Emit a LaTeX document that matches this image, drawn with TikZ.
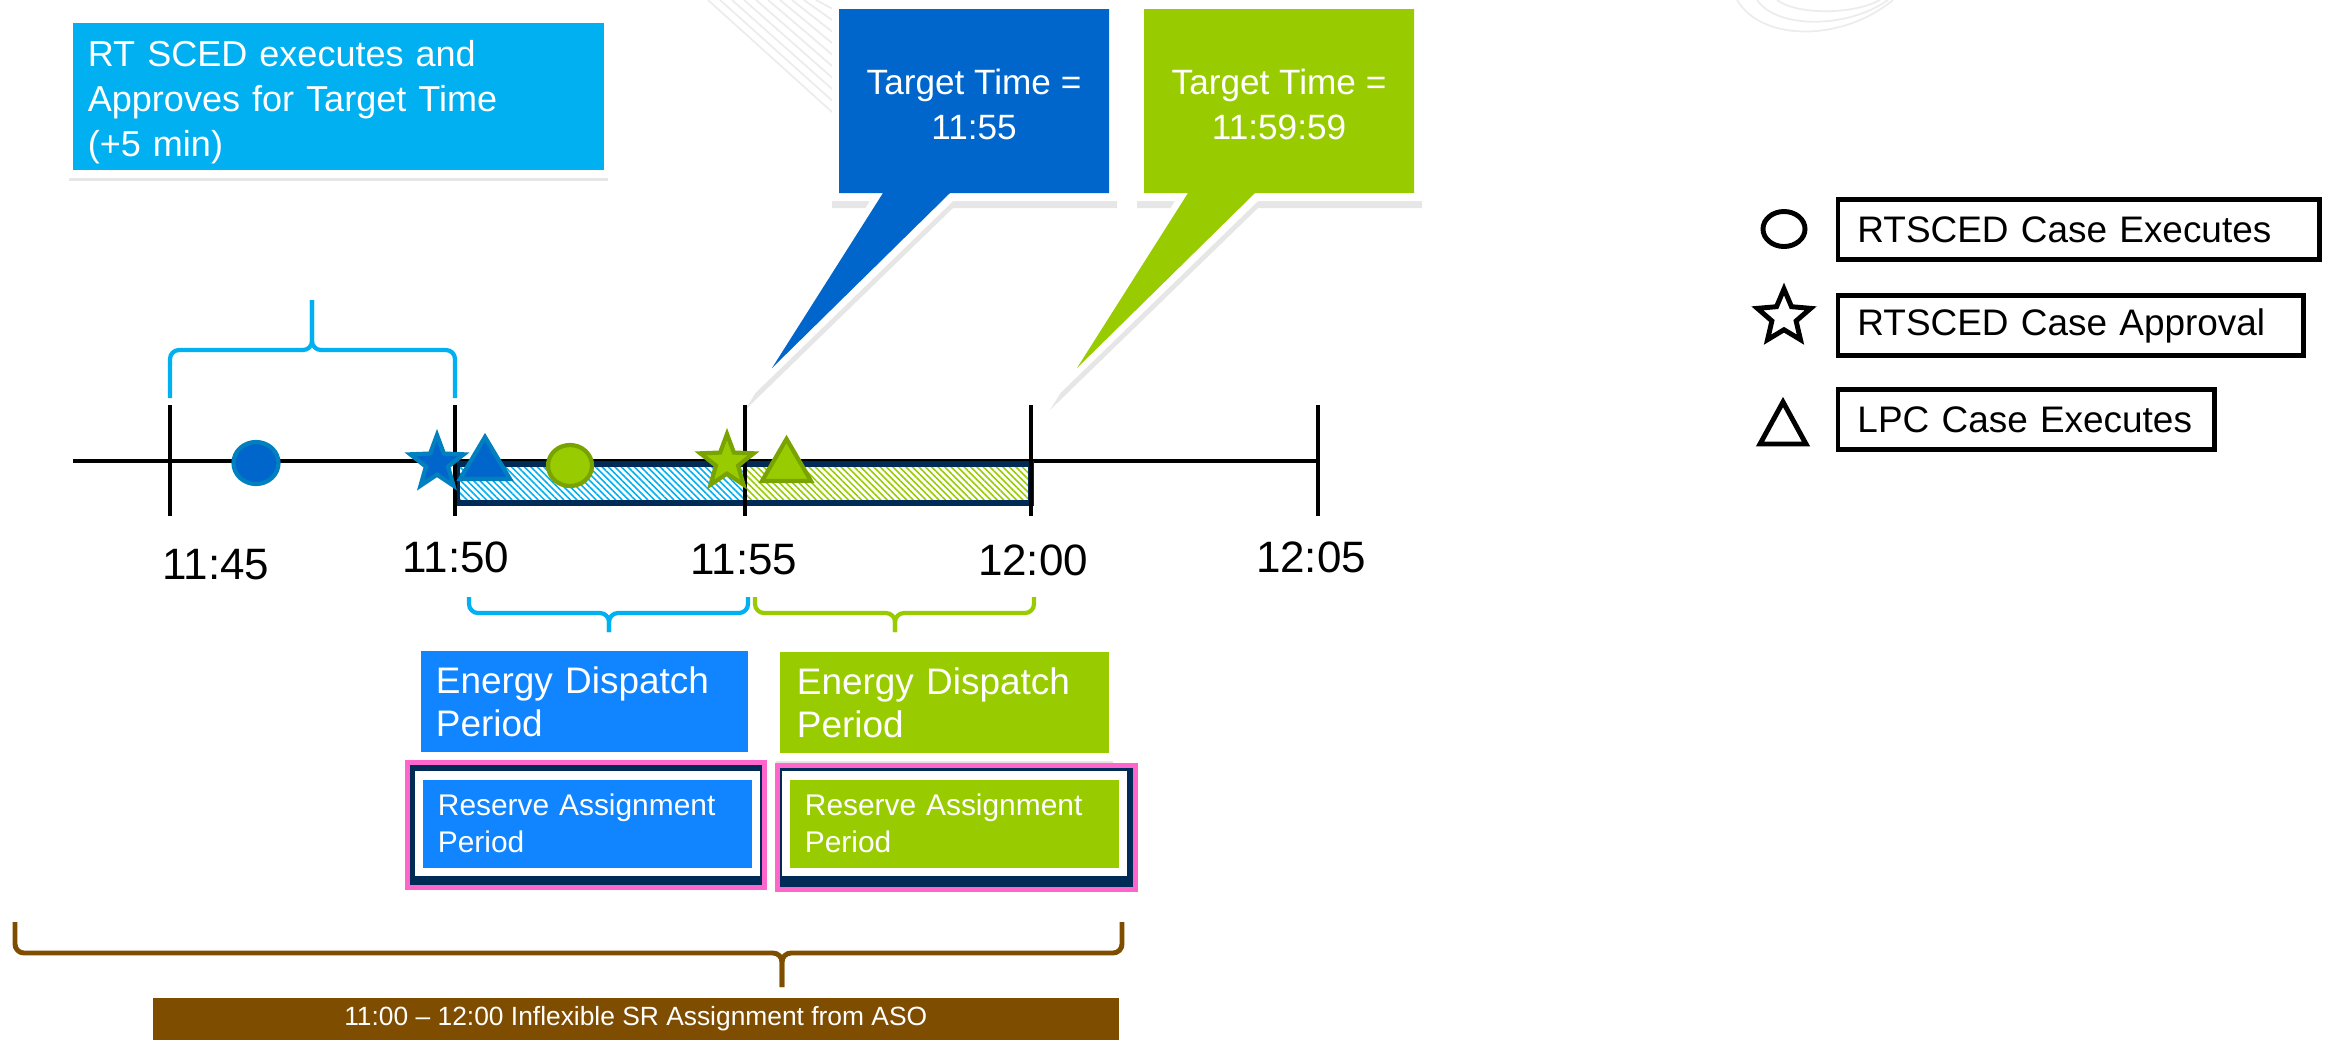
\documentclass[tikz,border=0pt]{standalone}
\usepackage{fontspec}
\setmainfont{Liberation Sans}
\usetikzlibrary{shapes.geometric,patterns.meta,shadows}
\definecolor{skyblue}{HTML}{00B0F0}
\definecolor{callblue}{HTML}{0066CC}
\definecolor{dispblue}{HTML}{1184FF}
\definecolor{markblue}{HTML}{0080BF}
\definecolor{limegreen}{HTML}{99CC00}
\definecolor{markgreen}{HTML}{78A300}
\definecolor{barnavy}{HTML}{002B57}
\definecolor{rosepink}{HTML}{FF66CC}
\definecolor{asobrown}{HTML}{7F4D00}
\begin{document}
\begin{tikzpicture}[x=0.01cm,y=-0.01cm,
    whitebox/.style={draw=white,line width=2.3pt,inner ysep=0pt,text=white,align=left,
      drop shadow={shadow xshift=0pt,shadow yshift=-2pt,opacity=.2}},
    flatbox/.style={draw=white,line width=2.3pt,inner ysep=0pt,text=white,align=left},
    bluemark/.style={fill=callblue,draw=markblue,line width=1.2pt},
    greenmark/.style={fill=limegreen,draw=markgreen,line width=1.2pt},
    starmark/.style={star,star points=5,star point ratio=2.4,minimum size=0.56cm,inner sep=0pt},
    tickmark/.style={line width=1.15pt},
    ticklabel/.style={font=\fontsize{12.5}{15}\selectfont},
    bracket/.style={line width=1.2pt,rounded corners=0.09cm},
    wmark/.style={gray!15,line width=0.5pt},
    legendbox/.style={draw,line width=1.4pt,anchor=west,minimum height=0.6cm,inner xsep=0.195cm,
      align=left,font=\fontsize{10.5}{12.6}\selectfont}]
  \useasboundingbox (0,0) rectangle (2330,1048);
  % watermark in the background
  \foreach \i in {0,...,9}
    \draw[wmark] (708+12*\i,0) -- (832,112-11.5*\i);
  \draw[wmark] (1737,0) .. controls (1762,42) and (1842,42) .. (1893,0);
  \draw[wmark] (1757,0) .. controls (1777,29) and (1847,29) .. (1888,0);
  \draw[wmark] (1777,0) .. controls (1797,15) and (1852,15) .. (1880,0);

  % info box top left
  \node[whitebox,fill=skyblue,minimum width=5.385cm,minimum height=1.55cm,text width=5.015cm,
    inner xsep=0.185cm,font=\fontsize{10.25}{12.8}\selectfont] (sced) at (338.75,96.5)
    {\rule{0pt}{10.8pt}RT SCED executes and\\Approves for Target Time\\(+5 min)};

  % callouts
  \path[fill=white,drop shadow={shadow xshift=0pt,shadow yshift=-2pt,opacity=.2}]
    (832,1) -- (1117,1) -- (1117,201) -- (953,201) -- (745,403) -- (870,201) -- (832,201) -- cycle;
  \fill[callblue] (839,9) -- (1109,9) -- (1109,193) -- (950,193) -- (772,368) -- (883,193) -- (839,193) -- cycle;
  \node[text=white,align=center,font=\fontsize{10}{12.8}\selectfont] (tt55) at (974,104) {Target Time =\\11:55};
  \path[fill=white,drop shadow={shadow xshift=0pt,shadow yshift=-2pt,opacity=.2}]
    (1137,1) -- (1422,1) -- (1422,201) -- (1258,201) -- (1050,403) -- (1175,201) -- (1137,201) -- cycle;
  \fill[limegreen] (1144,9) -- (1414,9) -- (1414,193) -- (1255,193) -- (1077,368) -- (1188,193) -- (1144,193) -- cycle;
  \node[text=white,align=center,font=\fontsize{10}{12.8}\selectfont] (tt00) at (1279,104) {Target Time =\\11:59:59};

  % time line
  \draw[line width=1.4pt] (73,461) -- (1318,461);
  \fill[pattern={Lines[angle=-45,distance=1.3pt,line width=.45pt]},pattern color=skyblue] (457,464) rectangle (745,503);
  \fill[pattern={Lines[angle=-45,distance=1.3pt,line width=.45pt]},pattern color=limegreen] (745,464) rectangle (1031,503);
  \draw[barnavy,line width=1.7pt] (457,464) rectangle (1031,503);
  \foreach \x/\n in {170/t45,455/t50,745/t55,1031/t00,1318/t05}
    \draw[tickmark] (\x,405) coordinate (\n) -- (\x,516);
  \node[ticklabel] (l45) at (216,565) {11:45};
  \node[ticklabel] (l50) at (456,557) {11:50};
  \node[ticklabel] (l55) at (744,560) {11:55};
  \node[ticklabel] (l00) at (1033,560) {12:00};
  \node[ticklabel] (l05) at (1311,557) {12:05};

  % cases on the time line
  \draw[bluemark] (256,463) ellipse [x radius=0.225cm,y radius=0.21cm];
  \node[starmark,bluemark] (sb) at (437,463) {};
  \draw[bluemark] (460,479) -- (485,437) -- (510,479) -- cycle;
  \draw[greenmark] (570,465.5) ellipse [x radius=0.22cm,y radius=0.205cm];
  \node[starmark,greenmark] (sg) at (727,462) {};
  \draw[greenmark] (762,481) -- (786.5,439) -- (811,481) -- cycle;

  % brackets
  \draw[bracket,skyblue] (170,398) -- (170,350) -- (312,350) -- (312,300);
  \draw[bracket,skyblue] (455,398) -- (455,350) -- (312,350) -- (312,300);
  \draw[bracket,skyblue] (469,597) -- (469,613) -- (609,613) -- (609,632);
  \draw[bracket,skyblue] (748,597) -- (748,613) -- (609,613) -- (609,632);
  \draw[bracket,limegreen] (755,597) -- (755,613) -- (895,613) -- (895,632);
  \draw[bracket,limegreen] (1034,597) -- (1034,613) -- (895,613) -- (895,632);
  \draw[bracket,asobrown,line width=1.4pt] (15,922) -- (15,953) -- (782,953) -- (782,987);
  \draw[bracket,asobrown,line width=1.4pt] (1122,922) -- (1122,953) -- (782,953) -- (782,987);

  % periods
  \node[whitebox,fill=dispblue,minimum width=3.35cm,minimum height=1.09cm,text width=2.97cm,
    inner xsep=0.19cm,font=\fontsize{10.5}{12.2}\selectfont] (edb) at (584.5,701.5) {Energy Dispatch\\Period};
  \node[whitebox,fill=limegreen,minimum width=3.365cm,minimum height=1.09cm,text width=2.955cm,
    inner xsep=0.205cm,font=\fontsize{10.5}{12.2}\selectfont] (edg) at (944.75,702.5) {Energy Dispatch\\Period};
  \draw[rosepink,fill=barnavy,line width=1.4pt] (407.5,762.5) rectangle (764.5,887.5);
  \draw[rosepink,fill=barnavy,line width=1.4pt] (777.5,765.5) rectangle (1135.5,889.5);
  \node[flatbox,fill=dispblue,minimum width=3.37cm,minimum height=0.965cm,text width=2.99cm,
    inner xsep=0.19cm,font=\fontsize{8.5}{10.5}\selectfont] (rab) at (587.5,823.75) {Reserve Assignment\\Period};
  \node[flatbox,fill=limegreen,minimum width=3.365cm,minimum height=0.965cm,text width=2.985cm,
    inner xsep=0.19cm,font=\fontsize{8.5}{10.5}\selectfont] (rag) at (954.25,823.75) {Reserve Assignment\\Period};
  \node[whitebox,fill=asobrown,minimum width=9.735cm,minimum height=0.51cm,align=center,
    font=\fontsize{7.5}{9}\selectfont] (aso) at (635.75,1019) {11:00 – 12:00 Inflexible SR Assignment from ASO};

  % legend
  \draw[line width=1.4pt] (1784,229) ellipse [x radius=0.21cm,y radius=0.175cm];
  \node[starmark,star point ratio=2.2,draw,fill=white,line width=1.4pt] (ls) at (1784,317) {};
  \draw[line width=1.4pt] (1760,444) -- (1783,402) -- (1806,444) -- cycle;
  \node[legendbox,minimum width=4.81cm,text width=4.42cm] (lg1) at (1835.5,229.5) {RTSCED Case Executes};
  \node[legendbox,minimum width=4.65cm,text width=4.26cm] (lg2) at (1835.5,325.5) {RTSCED Case Approval};
  \node[legendbox,minimum width=3.76cm,text width=3.37cm] (lg3) at (1835.5,419.5) {LPC Case Executes};
\end{tikzpicture}
\end{document}
